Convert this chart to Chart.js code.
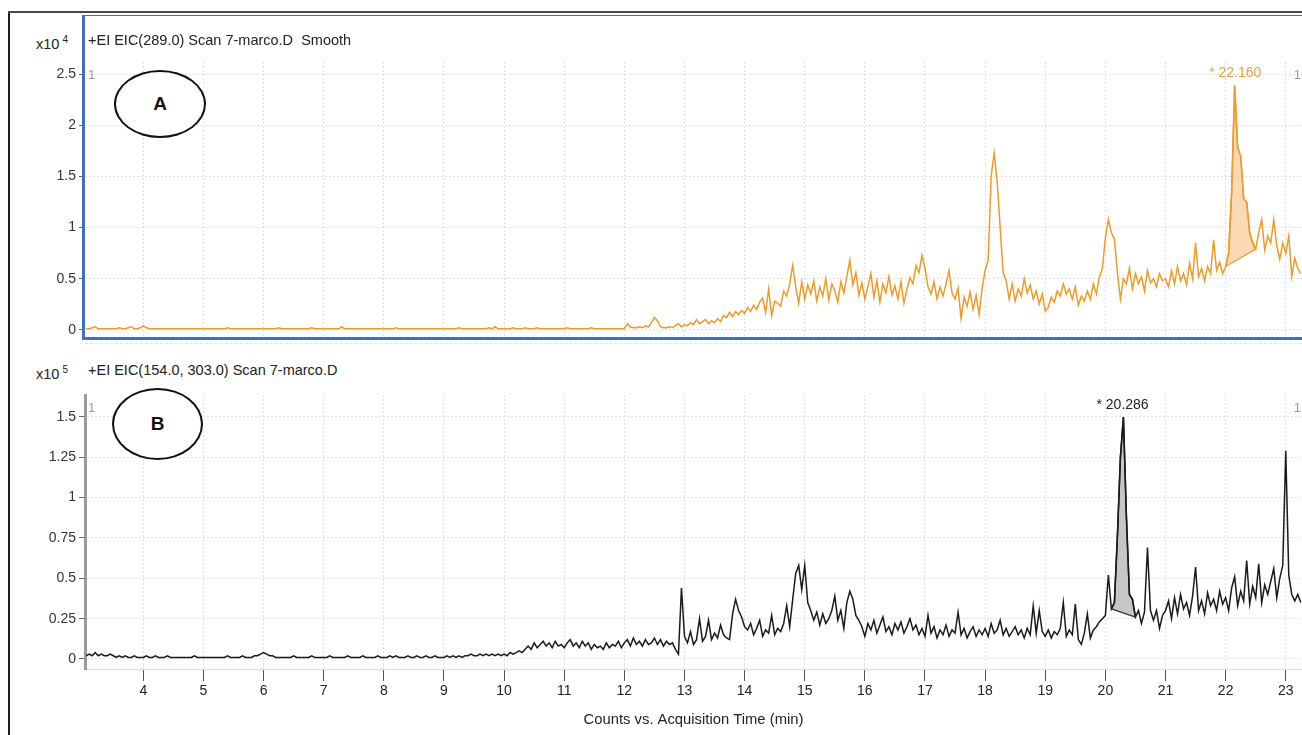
<!DOCTYPE html>
<html lang="en">
<head>
<meta charset="utf-8">
<title>EIC chromatograms</title>
<script src="https://cdn.jsdelivr.net/npm/chart.js@4.4.1/dist/chart.umd.min.js"></script>
<style>
  html, body { margin: 0; padding: 0; background: #fff; }
  body { position: relative; width: 1302px; height: 735px; overflow: hidden;
         font-family: "Liberation Sans", Arial, sans-serif; color: #222; }
  canvas { position: absolute; left: 0; }
  #graficaA { top: 60px; }
  #graficaB { top: 385px; }
  .linea { position: absolute; }
  .cabecera { position: absolute; font-size: 14.5px; line-height: 16px; white-space: nowrap; color: #222; }
  .cabecera sup { font-size: 10px; vertical-align: 6px; margin-left: 3px; }
  .ovalo { position: absolute; box-sizing: border-box; border: 2px solid #111; border-radius: 50%;
           background: #fff; display: flex; align-items: center; justify-content: center;
           font-weight: bold; font-size: 19px; color: #111; }
</style>
</head>
<body>
<canvas id="graficaA" width="1302" height="280"></canvas>
<canvas id="graficaB" width="1302" height="350"></canvas>

<!-- marcos -->
<div class="linea" style="left:8px;top:11px;width:2px;height:724px;background:#1e1e1e"></div>
<div class="linea" style="left:8px;top:11px;width:1294px;height:2px;background:#4a4a4a"></div>
<div class="linea" style="left:82px;top:15px;width:1240px;height:321px;border-style:solid;border-color:#3d6fc9;border-width:1px 0 3px 3px"></div>
<div class="linea" style="left:85px;top:343px;width:1217px;height:0;border-top:1px dashed #e2e2e2"></div>

<!-- cabeceras -->
<div class="cabecera" style="left:36px;top:32px">x10<sup>4</sup></div>
<div class="cabecera" style="left:88px;top:32px">+EI EIC(289.0) Scan 7-marco.D&nbsp; Smooth</div>
<div class="cabecera" style="left:36px;top:362px">x10<sup>5</sup></div>
<div class="cabecera" style="left:88px;top:362px">+EI EIC(154.0, 303.0) Scan 7-marco.D</div>

<div class="ovalo" style="left:114px;top:70px;width:92px;height:68px">A</div>
<div class="ovalo" style="left:112px;top:388px;width:91px;height:72px">B</div>

<script>
// tiempo de adquisicion: empieza en 3.05 min, un valor cada 0.05 min
const tInicio = 3.05;
const tPaso = 0.05;

// A: EIC 289.0 (x10^4 cuentas), una fila por minuto
const senalA = [
  0.01,0.01,0.02,0.03,0.01,0.01,0.01,0.01,0.01,0.01,0.01,0.02,0.01,0.01,0.02,0.03,0.01,0.01,0.02,
  0.04,0.02,0.01,0.01,0.01,0.01,0.01,0.01,0.01,0.01,0.01,0.01,0.01,0.01,0.01,0.01,0.01,0.01,0.01,0.01,
  0.01,0.01,0.01,0.01,0.01,0.01,0.01,0.01,0.02,0.01,0.01,0.01,0.01,0.01,0.01,0.01,0.01,0.01,0.01,0.01,
  0.01,0.01,0.01,0.01,0.01,0.02,0.01,0.01,0.01,0.01,0.01,0.01,0.01,0.01,0.01,0.01,0.02,0.01,0.01,0.01,
  0.01,0.01,0.01,0.01,0.01,0.01,0.03,0.01,0.01,0.01,0.01,0.01,0.01,0.01,0.01,0.01,0.01,0.01,0.01,0.01,
  0.01,0.01,0.01,0.01,0.02,0.01,0.01,0.01,0.01,0.01,0.01,0.01,0.01,0.01,0.01,0.01,0.01,0.01,0.01,0.01,
  0.01,0.01,0.01,0.01,0.01,0.02,0.01,0.01,0.01,0.01,0.01,0.01,0.01,0.01,0.01,0.02,0.01,0.03,0.01,0.01,
  0.01,0.01,0.01,0.02,0.01,0.01,0.01,0.02,0.01,0.01,0.01,0.02,0.01,0.01,0.01,0.01,0.01,0.01,0.01,0.01,
  0.01,0.02,0.01,0.01,0.01,0.01,0.01,0.01,0.01,0.02,0.01,0.01,0.01,0.01,0.01,0.01,0.01,0.01,0.01,0.01,
  0.01,0.06,0.03,0.02,0.02,0.03,0.02,0.04,0.03,0.07,0.12,0.09,0.03,0.02,0.02,0.03,0.02,0.04,0.06,0.03,
  0.05,0.04,0.07,0.05,0.10,0.06,0.08,0.10,0.06,0.09,0.07,0.11,0.08,0.14,0.12,0.17,0.13,0.18,0.15,0.19,
  0.16,0.22,0.18,0.24,0.20,0.27,0.31,0.17,0.40,0.14,0.28,0.26,0.23,0.38,0.33,0.45,0.63,0.42,0.26,0.47,
  0.30,0.44,0.35,0.48,0.28,0.42,0.33,0.50,0.29,0.45,0.38,0.27,0.47,0.36,0.52,0.68,0.44,0.56,0.34,0.46,
  0.30,0.42,0.55,0.32,0.48,0.27,0.45,0.36,0.52,0.34,0.43,0.30,0.47,0.26,0.40,0.51,0.45,0.63,0.56,0.73,
  0.60,0.42,0.35,0.47,0.30,0.42,0.33,0.45,0.58,0.36,0.30,0.41,0.11,0.32,0.23,0.37,0.20,0.34,0.15,0.40,
  0.58,0.68,1.50,1.73,1.45,1.00,0.56,0.48,0.30,0.45,0.28,0.40,0.33,0.50,0.36,0.44,0.30,0.38,0.25,0.35,
  0.18,0.22,0.32,0.27,0.38,0.33,0.45,0.35,0.40,0.30,0.42,0.24,0.33,0.28,0.38,0.30,0.45,0.35,0.52,0.60,
  0.90,1.08,0.95,0.89,0.56,0.30,0.50,0.45,0.60,0.40,0.55,0.45,0.52,0.38,0.58,0.46,0.50,0.42,0.55,0.48,
  0.50,0.42,0.58,0.45,0.62,0.48,0.55,0.44,0.65,0.50,0.85,0.52,0.60,0.48,0.62,0.55,0.88,0.58,0.66,0.55,
  0.62,0.75,1.35,2.39,1.78,1.70,1.28,1.25,0.95,0.85,0.79,0.95,1.08,0.78,0.92,0.85,1.08,0.82,0.69,0.85,
  0.75,0.92,0.52,0.70,0.60,0.55
];

// B: EIC 154.0, 303.0 (x10^5 cuentas)
const senalB = [
  0.02,0.03,0.02,0.04,0.02,0.03,0.02,0.02,0.03,0.02,0.01,0.02,0.01,0.02,0.01,0.01,0.02,0.01,0.01,
  0.01,0.02,0.01,0.01,0.02,0.01,0.01,0.01,0.02,0.01,0.01,0.01,0.01,0.01,0.01,0.01,0.01,0.02,0.01,0.01,
  0.01,0.01,0.01,0.01,0.01,0.01,0.01,0.01,0.02,0.01,0.01,0.01,0.01,0.02,0.01,0.01,0.01,0.02,0.02,0.03,
  0.04,0.03,0.02,0.02,0.01,0.01,0.01,0.01,0.01,0.01,0.02,0.01,0.01,0.01,0.01,0.01,0.02,0.01,0.01,0.01,
  0.01,0.01,0.02,0.01,0.01,0.01,0.01,0.01,0.02,0.01,0.01,0.01,0.01,0.02,0.01,0.01,0.01,0.01,0.02,0.01,
  0.01,0.01,0.02,0.01,0.02,0.01,0.01,0.01,0.02,0.01,0.01,0.02,0.01,0.01,0.02,0.01,0.01,0.02,0.01,0.01,
  0.01,0.02,0.01,0.02,0.01,0.02,0.01,0.02,0.02,0.03,0.02,0.02,0.03,0.02,0.03,0.02,0.03,0.02,0.03,0.02,
  0.03,0.02,0.04,0.03,0.04,0.05,0.04,0.06,0.08,0.06,0.10,0.07,0.09,0.11,0.08,0.10,0.07,0.11,0.08,0.09,
  0.07,0.10,0.12,0.08,0.10,0.07,0.11,0.08,0.10,0.06,0.09,0.07,0.08,0.06,0.10,0.07,0.09,0.08,0.11,0.07,
  0.10,0.12,0.08,0.13,0.09,0.11,0.08,0.12,0.09,0.10,0.13,0.09,0.12,0.08,0.11,0.09,0.10,0.06,0.03,0.44,
  0.14,0.10,0.17,0.09,0.12,0.25,0.11,0.14,0.24,0.12,0.16,0.13,0.21,0.15,0.13,0.12,0.28,0.37,0.30,0.26,
  0.20,0.18,0.22,0.15,0.19,0.24,0.14,0.18,0.16,0.27,0.15,0.19,0.17,0.22,0.33,0.20,0.37,0.53,0.58,0.43,
  0.58,0.35,0.30,0.24,0.29,0.21,0.28,0.22,0.25,0.30,0.39,0.24,0.30,0.19,0.35,0.42,0.37,0.27,0.24,0.20,
  0.14,0.22,0.18,0.24,0.16,0.21,0.26,0.17,0.20,0.15,0.22,0.18,0.23,0.16,0.20,0.25,0.18,0.21,0.15,0.19,
  0.14,0.27,0.16,0.20,0.13,0.18,0.15,0.21,0.14,0.18,0.16,0.29,0.15,0.19,0.13,0.17,0.20,0.14,0.18,0.15,
  0.19,0.14,0.22,0.16,0.18,0.24,0.15,0.19,0.14,0.17,0.20,0.15,0.18,0.13,0.19,0.15,0.33,0.16,0.30,0.17,
  0.14,0.18,0.13,0.17,0.15,0.19,0.35,0.14,0.18,0.15,0.34,0.12,0.09,0.16,0.28,0.13,0.18,0.20,0.23,0.25,
  0.27,0.52,0.31,0.35,0.76,1.25,1.50,0.88,0.40,0.37,0.26,0.30,0.22,0.29,0.69,0.30,0.24,0.30,0.19,0.27,
  0.30,0.36,0.25,0.38,0.28,0.40,0.31,0.35,0.27,0.39,0.57,0.30,0.36,0.28,0.41,0.33,0.37,0.30,0.42,0.34,
  0.38,0.30,0.44,0.51,0.33,0.42,0.36,0.61,0.34,0.45,0.38,0.59,0.35,0.46,0.40,0.48,0.56,0.38,0.50,0.58,
  1.29,0.52,0.40,0.36,0.40,0.35
];

// picos integrados: tiempo de retencion y ventana de integracion
const picoRtA = 22.160;
const ventanaA = [22.00, 22.50];
const picoRtB = 20.286;
const ventanaB = [20.10, 20.50];

// ejes
const ticksX = [4,5,6,7,8,9,10,11,12,13,14,15,16,17,18,19,20,21,22,23];
const ticksYA = [0, 0.5, 1, 1.5, 2, 2.5];
const ticksYB = [0, 0.25, 0.5, 0.75, 1, 1.25, 1.5];

const xMin = 3.03, xMax = 23.27;
const fuente = '"Liberation Sans", Arial, sans-serif';
const colorRejilla = '#e0e0e0';

function aPuntos(valores) {
  return valores.map((v, i) => ({ x: +(tInicio + i * tPaso).toFixed(2), y: v }));
}
function tramo(puntos, ventana) {
  return puntos.filter(p => p.x >= ventana[0] - 1e-6 && p.x <= ventana[1] + 1e-6);
}

// etiquetas "1" en las esquinas y la etiqueta del pico
const decor = {
  id: 'decor',
  afterDatasetsDraw(chart, args, opts) {
    const { ctx, chartArea, scales } = chart;
    ctx.save();
    ctx.font = '13px ' + fuente;
    ctx.fillStyle = '#9a9a9a';
    ctx.textBaseline = 'middle';
    ctx.textAlign = 'left';
    ctx.fillText('1', chartArea.left + 3, chartArea.top + 13);
    ctx.textAlign = 'right';
    ctx.fillText('1', chartArea.right - 1, chartArea.top + 13);

    const px = scales.x.getPixelForValue(opts.rt);
    const py = scales.y.getPixelForValue(opts.alto);
    ctx.font = '14px ' + fuente;
    ctx.fillStyle = opts.color;
    ctx.textAlign = 'center';
    ctx.textBaseline = 'bottom';
    ctx.fillText('* ' + opts.rt.toFixed(3), px, py - 5);
    ctx.restore();
  }
};

function ejeX(conEtiquetas) {
  const eje = {
    type: 'linear', min: xMin, max: xMax,
    afterBuildTicks: s => { s.ticks = ticksX.map(v => ({ value: v })); },
    grid: { color: colorRejilla, lineWidth: 1 },
    border: { dash: [2, 2] }
  };
  if (conEtiquetas) {
    eje.afterFit = s => { s.height = 66; s.paddingLeft = 0; s.paddingRight = 0; };
    eje.ticks = { color: '#222', font: { size: 14, family: fuente }, padding: 2, maxRotation: 0, autoSkip: false,
                  callback: v => String(v) };
    eje.grid.tickColor = '#555';
    eje.grid.tickLength = 12;
    eje.grid.tickBorderDash = [];
    eje.border = { display: true, color: '#dcdcdc', width: 1, dash: [2, 2] };
    eje.title = { display: true, text: 'Counts vs. Acquisition Time (min)', color: '#222',
                  font: { size: 14.8, family: fuente }, padding: { top: 0, bottom: 6 } };
  } else {
    eje.afterFit = s => { s.height = 0; s.paddingLeft = 0; s.paddingRight = 0; };
    eje.ticks = { display: false };
    eje.grid.drawTicks = false;
    eje.border = { display: false, dash: [2, 2] };
  }
  return eje;
}

function ejeY(min, max, ticks, borde) {
  return {
    min: min, max: max,
    afterBuildTicks: s => { s.ticks = ticks.map(v => ({ value: v })); },
    afterFit: s => { s.width = 85; s.paddingTop = 0; s.paddingBottom = 0; },
    ticks: { color: '#333', font: { size: 14, family: fuente }, padding: 3, callback: v => String(v) },
    grid: { color: colorRejilla, tickColor: '#666', tickLength: 6, tickBorderDash: [] },
    border: borde ? { display: true, color: '#9a9a9a', width: 3, dash: [2, 2] } : { display: false, dash: [2, 2] }
  };
}

function datasetsPico(puntos, ventana, colorLinea, colorRelleno, colorBase, ancho) {
  const pico = tramo(puntos, ventana);
  const base = [pico[0], pico[pico.length - 1]];
  return [
    { data: puntos, borderColor: colorLinea, borderWidth: ancho, pointRadius: 0, fill: false, order: 1 },
    { data: pico, borderColor: colorLinea, borderWidth: ancho, pointRadius: 0,
      backgroundColor: colorRelleno, fill: '+1', order: 3 },
    { data: base, borderColor: colorBase, borderWidth: 1.3, pointRadius: 0, fill: false, order: 0 }
  ];
}

const puntosA = aPuntos(senalA);
const puntosB = aPuntos(senalB);
const altoA = Math.max(...tramo(puntosA, ventanaA).map(p => p.y));
const altoB = Math.max(...tramo(puntosB, ventanaB).map(p => p.y));

new Chart(document.getElementById('graficaA'), {
  type: 'line',
  data: { datasets: datasetsPico(puntosA, ventanaA, '#f39a26', 'rgba(248,192,130,0.6)', '#f0a040', 1.5) },
  options: {
    responsive: false, animation: false,
    layout: { padding: { left: 0, right: 0, top: 2, bottom: 2 } },
    plugins: { legend: { display: false }, tooltip: { enabled: false },
               decor: { rt: picoRtA, alto: altoA, color: '#f0a040' } },
    scales: { x: ejeX(false), y: ejeY(-0.08, 2.62, ticksYA, false) }
  },
  plugins: [decor]
});

new Chart(document.getElementById('graficaB'), {
  type: 'line',
  data: { datasets: datasetsPico(puntosB, ventanaB, '#1a1a1a', '#c6c6c6', '#333333', 1.5) },
  options: {
    responsive: false, animation: false,
    layout: { padding: { left: 0, right: 0, top: 10, bottom: 0 } },
    plugins: { legend: { display: false }, tooltip: { enabled: false },
               decor: { rt: picoRtB, alto: altoB, color: '#222' } },
    scales: { x: ejeX(true), y: ejeY(-0.062, 1.636, ticksYB, true) }
  },
  plugins: [decor]
});
</script>
</body>
</html>
